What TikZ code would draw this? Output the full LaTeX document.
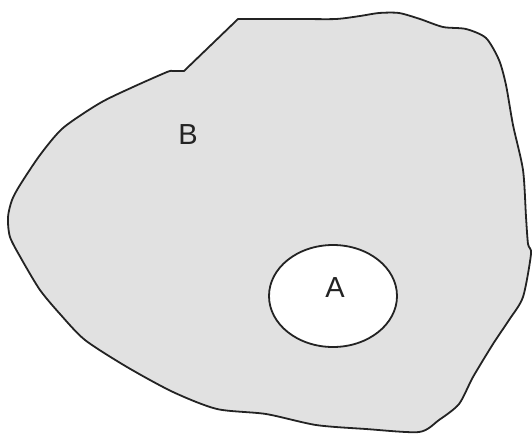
\documentclass[tikz,border=0pt]{standalone}
\usepackage{fontspec}
\setmainfont{Liberation Sans}
\usetikzlibrary{shapes.geometric}
\definecolor{blobfill}{RGB}{225,225,225}
\definecolor{edge}{RGB}{35,35,35}
\tikzset{
  outline/.style={draw=edge, line width=1.8pt, line join=round},
  setlabel/.style={font=\fontsize{29}{32}\selectfont, text=edge, inner sep=0pt},
}
\begin{document}
\begin{tikzpicture}[x=1pt,y=-1pt]
\useasboundingbox (0,0) rectangle (532,434);
% region B
\draw[outline, fill=blobfill] (184,71) -- (238,19) -- plot[smooth, tension=0.45] coordinates {
 (238,19) (300,19) (336,19) (360,16) (379,13) (399,13) (420,19) (443,27) (466,29) (486,38)
 (499,60) (506,85) (513,125) (523,170) (526,217) (528,244) (531,254) (523,297) (509,320)
 (493,344) (473,377) (459,404) (439,420) (419,432) (366,429) (316,425) (266,414) (217,409)
 (173,392) (127,367) (85,340) (60,314) (40,290) (22,260) (10,237) (8,217) (12,200) (20,185)
 (40,155) (63,128) (100,103) (133,87) (167,72) (172,71)} -- cycle;
% set A
\node[ellipse, outline, fill=white, minimum width=128pt, minimum height=102pt, inner sep=0pt] (A) at (333,296) {};
\node[setlabel] (Alabel) at (335,288) {A};
\node[setlabel] (Blabel) at (188,135) {B};
\end{tikzpicture}
\end{document}
